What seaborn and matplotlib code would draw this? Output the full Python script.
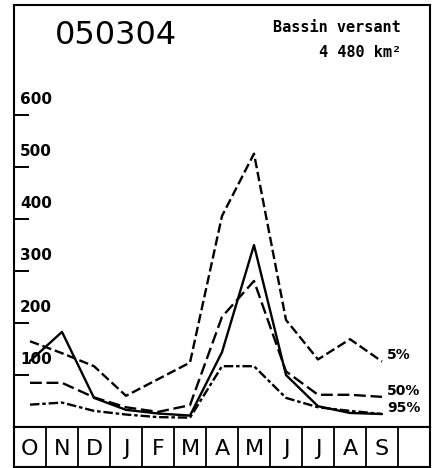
import pandas as pd
import numpy as np
import matplotlib.pyplot as plt
import seaborn as sns

# station and basin info
station = '050304'
bassin = 'Bassin versant'
surface = '4 480 km²'

# hydrological year, October to September
mois = ['O', 'N', 'D', 'J', 'F', 'M', 'A', 'M', 'J', 'J', 'A', 'S']

# monthly discharge
q5 = [165, 142, 117, 60, 92, 124, 406, 526, 206, 130, 169, 126]
q50 = [85, 85, 57, 38, 29, 42, 212, 281, 107, 62, 62, 58]
q95 = [43, 47, 31, 24, 19, 18, 117, 117, 56, 38, 31, 25]
observe = [127, 183, 56, 33, 26, 22, 144, 350, 100, 40, 27, 25]

y_ticks = [100, 200, 300, 400, 500, 600]

rows = []
for name, vals in [('5%', q5), ('50%', q50), ('95%', q95), ('obs', observe)]:
    for i, v in enumerate(vals):
        rows.append({'mois': i, 'debit': v, 'serie': name})
df = pd.DataFrame(rows)

sns.set_style('white')
plt.rcParams['font.family'] = ['DejaVu Sans']
plt.rcParams['text.color'] = 'black'

W, H = 433, 468
fig = plt.figure(figsize=(W / 100, H / 100), dpi=100)

# main plot area (includes header inside the frame)
ax = fig.add_axes([14 / W, 1 - 427 / H, 416 / W, 422 / H])
dashes = {'5%': (4, 1.6), '50%': (5, 2), '95%': (4, 1.2, 1.5, 1.2), 'obs': ''}
sns.lineplot(data=df, x='mois', y='debit', style='serie', dashes=dashes,
             color='black', linewidth=1.7, legend=False, sort=False, ax=ax)
ax.set_xlim(-0.5, 12.5)
ax.set_ylim(0, 812)
ax.set_xlabel('')
ax.set_ylabel('')
ax.set_xticks([])
ax.set_yticks(y_ticks)
ax.set_yticklabels([])
ax.tick_params(axis='y', direction='in', length=11, width=1.4, color='black', left=True)
for s in ax.spines.values():
    s.set_visible(True)
    s.set_color('black')
    s.set_linewidth(1.5)

for t in y_ticks:
    ax.text(0.014, t + 15, str(t), transform=ax.get_yaxis_transform(),
            ha='left', va='bottom', fontsize=11, fontweight='bold')

# curve labels at the end of each line
for name, vals in [('5%', q5), ('50%', q50), ('95%', q95)]:
    ax.text(11.15, vals[-1] + 12, name, ha='left', va='center',
            fontsize=10, fontweight='bold')

# header
ax.text(0.245, 0.965, station, transform=ax.transAxes, ha='center', va='top',
        fontsize=23)
ax.text(0.93, 0.965, bassin, transform=ax.transAxes, ha='right', va='top',
        fontsize=11, fontweight='bold', family='DejaVu Sans Mono')
ax.text(0.93, 0.905, surface, transform=ax.transAxes, ha='right', va='top',
        fontsize=11, fontweight='bold', family='DejaVu Sans Mono')

# month strip
axm = fig.add_axes([14 / W, 1 - 467 / H, 416 / W, 40 / H])
axm.set_xlim(-0.5, 12.5)
axm.set_ylim(0, 1)
axm.set_xticks([])
axm.set_yticks([])
for s in axm.spines.values():
    s.set_visible(True)
    s.set_color('black')
    s.set_linewidth(1.5)
for i in range(12):
    axm.axvline(i + 0.5, color='black', linewidth=1.3)
for i, m in enumerate(mois):
    axm.text(i, 0.45, m, ha='center', va='center', fontsize=16)

fig.savefig('out.png', dpi=100)
